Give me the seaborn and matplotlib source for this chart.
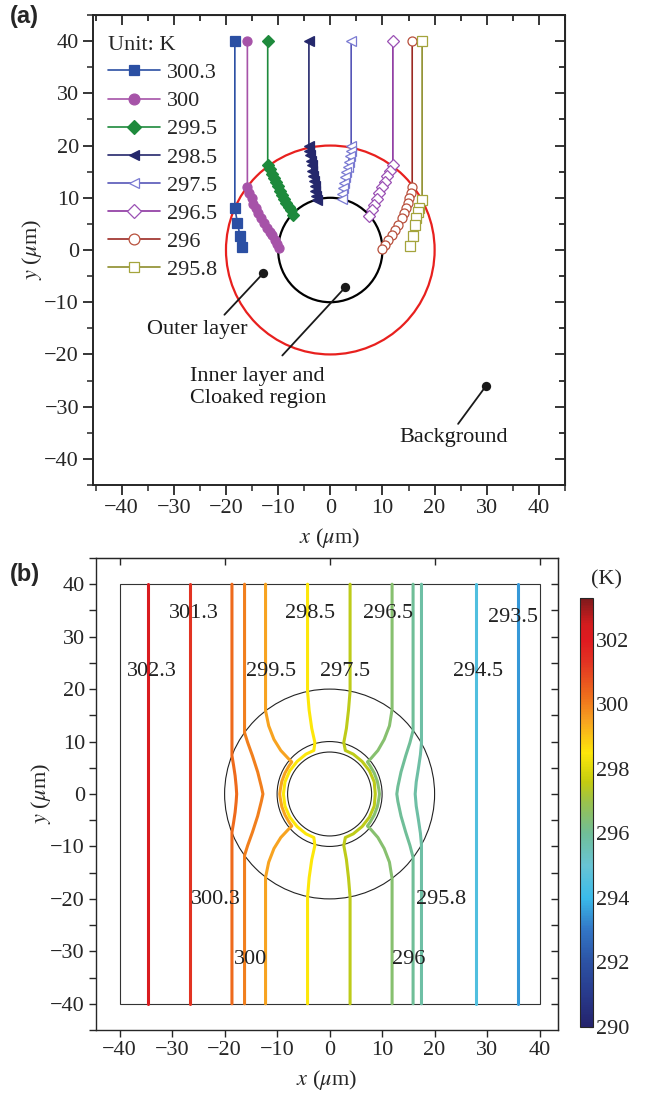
import numpy as np
import matplotlib
matplotlib.use('Agg')
import matplotlib.pyplot as plt
import matplotlib.cm as cm
import seaborn as sns
from matplotlib.patches import Circle, Rectangle
from matplotlib.colors import LinearSegmentedColormap, Normalize
from matplotlib.ticker import MultipleLocator

sns.set_style('ticks')
plt.rcParams['font.family'] = ['Liberation Serif', 'DejaVu Serif']
plt.rcParams['mathtext.fontset'] = 'stix'

# ---------------- panel (a): isotherm tracks (upper half)
a_labels = ['300.3', '300', '299.5', '298.5', '297.5', '296.5', '296', '295.8']

x_3003 = [-18.3, -18.3, -17.8, -17.3, -17.0]
y_3003 = [40, 8.0, 5.2, 2.6, 0.5]
x_300 = [-15.9, -15.9, -15.6, -15.1, -14.8, -14.3, -13.8, -13.3, -12.7, -12.2, -11.6, -11.1, -10.6, -10.2, -9.9]
y_300 = [40, 12.0, 10.9, 9.9, 8.9, 8.0, 7.0, 6.1, 5.1, 4.3, 3.5, 2.8, 1.9, 1.2, 0.3]
x_2995 = [-12.0, -12.0, -11.6, -11.2, -10.8, -10.4, -10.1, -9.6, -9.2, -8.8, -8.4, -8.0, -7.6, -7.1]
y_2995 = [40, 16.3, 15.5, 14.6, 13.8, 13.0, 12.2, 11.3, 10.6, 9.8, 9.0, 8.3, 7.6, 6.7]
x_2985 = [-4.1, -4.1, -4.0, -3.9, -3.7, -3.6, -3.5, -3.3, -3.1, -3.0, -2.9, -2.7, -2.5]
y_2985 = [40, 20.0, 19.0, 18.1, 17.1, 16.2, 15.2, 14.2, 13.2, 12.3, 11.3, 10.4, 9.5]
x_2975 = [4.0, 4.0, 3.9, 3.7, 3.5, 3.3, 3.1, 2.9, 2.7, 2.5, 2.3, 2.2]
y_2975 = [40, 20.0, 19.0, 18.0, 16.9, 15.9, 14.9, 13.9, 12.9, 11.8, 10.8, 9.8]
x_2965 = [12.0, 12.0, 11.4, 10.9, 10.4, 9.9, 9.4, 8.9, 8.4, 7.9, 7.4]
y_2965 = [40, 16.3, 15.2, 14.1, 13.0, 12.0, 10.9, 9.8, 8.7, 7.6, 6.6]
x_296 = [15.7, 15.7, 15.5, 15.1, 14.9, 14.6, 14.2, 13.7, 13.0, 12.4, 11.8, 11.1, 10.5, 9.9]
y_296 = [40, 12.0, 10.9, 10.0, 9.0, 8.0, 7.1, 6.1, 4.8, 3.9, 2.9, 2.0, 1.0, 0.1]
x_2958 = [17.6, 17.6, 17.0, 16.8, 16.5, 16.3, 15.9, 15.3]
y_2958 = [40, 9.6, 8.1, 7.2, 6.1, 4.8, 2.6, 0.8]

a_colors = ['#2b4fa3', '#a653a8', '#1e8a3c', '#25286c', '#5656b8', '#8c35a0', '#9c2a24', '#8e8e2c']
a_edges = ['#2b4fa3', '#a653a8', '#1e8a3c', '#25286c', '#7a7ad2', '#9a50b4', '#b8503c', '#a4a43c']
a_markers = ['s', 'o', 'D', '<', '<', 'D', 'o', 's']
a_filled = [True, True, True, True, False, False, False, False]

outer_r = 20
inner_r = 10
cloak_r = 8

ann_text = ['Outer layer', 'Inner layer and\nCloaked region', 'Background']
ann_dot_x = [-12.9, 2.9, 29.8]
ann_dot_y = [-4.5, -7.1, -26.1]
ann_end_x = [-20.3, -9.2, 24.5]
ann_end_y = [-12.4, -20.2, -33.3]
ann_txt_x = [-35.2, -26.9, 13.3]
ann_txt_y = [-15.2, -26.3, -35.9]

# ---------------- panel (b): isotherms (upper half, mirrored about y = 0)
b_levels = [302.3, 301.3, 300.3, 300, 299.5, 298.5, 297.5, 296.5, 296, 295.8, 294.5, 293.5]
bx_3023 = [-34.6, -34.6]
by_3023 = [40, 0]
bx_3013 = [-26.6, -26.6]
by_3013 = [40, 0]
bx_3003 = [-18.6, -18.6, -18.3, -18.0, -17.8, -17.7]
by_3003 = [40, 7.3, 5.5, 3.5, 1.5, 0]
bx_300 = [-16.2, -16.2, -15.6, -14.7, -13.7, -13.0, -12.7]
by_300 = [40, 11.7, 9.8, 7.3, 4.2, 1.4, 0]
bx_2995 = [-12.2, -12.2, -11.6, -10.6, -9.3, -7.9, -7.2, -7.7, -8.5, -9.1, -9.4, -9.5]
by_2995 = [40, 15.9, 13.0, 10.4, 8.3, 6.8, 6.1, 5.4, 4.0, 2.4, 0.8, 0]
bx_2985 = [-4.2, -4.2, -3.9, -3.4, -2.8, -3.0, -4.5, -6.2, -7.6, -8.5, -8.8]
by_2985 = [40, 19.6, 16.0, 12.5, 9.8, 8.3, 7.6, 6.2, 4.4, 2.3, 0]
bx_2975 = [3.9, 3.9, 3.6, 3.2, 2.7, 3.0, 4.5, 6.2, 7.6, 8.5, 8.7]
by_2975 = [40, 19.6, 16.0, 12.5, 9.8, 8.3, 7.6, 6.2, 4.4, 2.3, 0]
bx_2965 = [11.9, 11.9, 11.4, 10.4, 9.2, 7.9, 7.2, 7.7, 8.5, 9.1, 9.4, 9.5]
by_2965 = [40, 16.1, 13.0, 10.4, 8.3, 6.8, 6.1, 5.4, 4.0, 2.4, 0.8, 0]
bx_296 = [15.9, 15.9, 15.3, 14.5, 13.6, 13.0, 12.8]
by_296 = [40, 12.1, 9.8, 7.3, 4.2, 1.4, 0]
bx_2958 = [17.5, 17.5, 17.3, 16.9, 16.5, 16.3]
by_2958 = [40, 9.7, 7.5, 4.8, 2.3, 0]
bx_2945 = [27.9, 27.9]
by_2945 = [40, 0]
bx_2935 = [35.9, 35.9]
by_2935 = [40, 0]

b_label_text = ['302.3', '301.3', '298.5', '296.5', '293.5', '299.5', '297.5', '294.5',
                '300.3', '295.8', '300', '296']
b_label_x = [-33.9, -25.8, -3.8, 11.1, 34.9, -11.2, 2.9, 28.2, -21.6, 21.3, -15.1, 15.0]
b_label_y = [23.3, 34.4, 34.4, 34.4, 33.6, 23.3, 23.3, 23.3, -20.2, -20.2, -31.5, -31.5]

domain_half = 40

# colour scale (K)
cmap_temps = [290, 291, 292, 293, 294, 295, 296, 297, 297.6, 298.5, 299.5, 300.3, 301.3, 302, 302.5, 303.3]
cmap_colors = ['#24236c', '#283a8c', '#2c52a4', '#3276c6', '#3abbea', '#68c4d4', '#70be98',
               '#9cc24a', '#c4cc10', '#fde70a', '#f7a220', '#ee6c1c', '#e23422', '#e01a20',
               '#d41c1e', '#7e1a1c']
cbar_min, cbar_max = 290, 303.3
cbar_ticks = [290, 292, 294, 296, 298, 300, 302]

# ---------------- figure
fig = plt.figure(figsize=(6.52, 10.96), dpi=100)
ax_a = fig.add_axes([0.1426, 0.5575, 0.7240, 0.4288])
ax_b = fig.add_axes([0.1472, 0.0602, 0.7086, 0.4307])
cax = fig.add_axes([0.8896, 0.0630, 0.0199, 0.3914])

# panel (a)
ax_a.add_patch(Circle((0, 0), outer_r, fill=False, ec='#e8201e', lw=1.6))
ax_a.add_patch(Circle((0, 0), inner_r, fill=False, ec='black', lw=1.6))

a_x = [x_3003, x_300, x_2995, x_2985, x_2975, x_2965, x_296, x_2958]
a_y = [y_3003, y_300, y_2995, y_2985, y_2975, y_2965, y_296, y_2958]
for xs, ys, lab, c, ec, m, filled in zip(a_x, a_y, a_labels, a_colors, a_edges, a_markers, a_filled):
    sns.lineplot(x=xs, y=ys, sort=False, estimator=None, ax=ax_a, label=lab,
                 color=c, linewidth=1.2, marker=m, markersize=6.5 if m != 'D' else 6,
                 markerfacecolor=c if filled else 'white', markeredgecolor=ec,
                 markeredgewidth=0.9)

for dx, dy, ex, ey in zip(ann_dot_x, ann_dot_y, ann_end_x, ann_end_y):
    ax_a.annotate('', xy=(dx, dy), xytext=(ex, ey),
                  arrowprops=dict(arrowstyle='-', lw=1.3, color='#1a1a1a', shrinkA=0, shrinkB=0))
for tx, x0, y0 in zip(ann_text, ann_txt_x, ann_txt_y):
    ax_a.text(x0, y0, tx, fontsize=16, ha='left', va='center', color='#1a1a1a', linespacing=1.2)
sns.scatterplot(x=ann_dot_x, y=ann_dot_y, s=45, color='#1a1a1a', linewidth=0, ax=ax_a, zorder=4)

ax_a.set_xlim(-45.5, 45)
ax_a.set_ylim(-45, 45)
ax_a.set_xticks(range(-40, 41, 10))
ax_a.set_yticks(range(-40, 41, 10))
ax_a.xaxis.set_minor_locator(MultipleLocator(5))
ax_a.yaxis.set_minor_locator(MultipleLocator(5))
ax_a.tick_params(which='major', direction='out', length=7, width=1.3, labelsize=16, pad=3)
ax_a.tick_params(which='minor', direction='out', length=4, width=1.1)
for sp in ax_a.spines.values():
    sp.set_linewidth(1.4)
top_a = ax_a.secondary_xaxis('top')
top_a.set_xticks(range(-40, 41, 10))
top_a.xaxis.set_minor_locator(MultipleLocator(5))
top_a.tick_params(which='both', direction='in', labeltop=False, width=1.3)
top_a.tick_params(which='major', length=7)
top_a.tick_params(which='minor', length=4)
right_a = ax_a.secondary_yaxis('right')
right_a.set_yticks(range(-40, 41, 10))
right_a.yaxis.set_minor_locator(MultipleLocator(5))
right_a.tick_params(which='both', direction='in', labelright=False, width=1.3)
right_a.tick_params(which='major', length=7)
right_a.tick_params(which='minor', length=4)
ax_a.set_xlabel(r'$x$ ($\mu$m)', fontsize=16, labelpad=6)
ax_a.set_ylabel(r'$y$ ($\mu$m)', fontsize=16)
ax_a.yaxis.set_label_coords(-0.104, 0.5)

leg = ax_a.legend(title='Unit: K', loc='upper left', bbox_to_anchor=(0.032, 0.955),
                  frameon=False, fontsize=16, title_fontsize=16, handlelength=2.35,
                  handletextpad=0.3, labelspacing=0.34, borderpad=0, borderaxespad=0,
                  alignment='left', markerscale=1.2)

# panel (b)
norm = Normalize(cbar_min, cbar_max)
pos = [(t - cbar_min) / (cbar_max - cbar_min) for t in cmap_temps]
cmap = LinearSegmentedColormap.from_list('temp', list(zip(pos, cmap_colors)))

ax_b.add_patch(Rectangle((-domain_half, -domain_half), 2 * domain_half, 2 * domain_half,
                         fill=False, ec='#333333', lw=0.8))
for r in [outer_r, inner_r, cloak_r]:
    ax_b.add_patch(Circle((0, 0), r, fill=False, ec='#222222', lw=0.8))

b_x = [bx_3023, bx_3013, bx_3003, bx_300, bx_2995, bx_2985, bx_2975, bx_2965, bx_296, bx_2958, bx_2945, bx_2935]
b_y = [by_3023, by_3013, by_3003, by_300, by_2995, by_2985, by_2975, by_2965, by_296, by_2958, by_2945, by_2935]
for lvl, xs, ys in zip(b_levels, b_x, b_y):
    # mirror the upper half about y = 0 (the field is symmetric)
    xf = list(xs) + list(xs[::-1][1:])
    yf = list(ys) + [-v for v in ys[::-1][1:]]
    sns.lineplot(x=xf, y=yf, sort=False, estimator=None, ax=ax_b,
                 color=cmap(norm(lvl)), linewidth=2.2)

for t, x0, y0 in zip(b_label_text, b_label_x, b_label_y):
    ax_b.text(x0, y0, t, fontsize=16, ha='center', va='center', color='#222222')

ax_b.set_xlim(-44.5, 43.5)
ax_b.set_ylim(-45, 45)
ax_b.set_xticks(range(-40, 41, 10))
ax_b.set_yticks(range(-40, 41, 10))
ax_b.yaxis.set_minor_locator(MultipleLocator(5))
ax_b.tick_params(which='both', direction='out', length=5, width=1, labelsize=16, pad=3)
for sp in ax_b.spines.values():
    sp.set_linewidth(1.0)
top_b = ax_b.secondary_xaxis('top')
top_b.set_xticks(range(-40, 41, 20))
top_b.tick_params(direction='in', labeltop=False, length=5, width=1)
right_b = ax_b.secondary_yaxis('right')
right_b.set_yticks(range(-40, 41, 5))
right_b.tick_params(direction='in', labelright=False, length=5, width=1)
ax_b.set_xlabel(r'$x$ ($\mu$m)', fontsize=16, labelpad=6)
ax_b.set_ylabel(r'$y$ ($\mu$m)', fontsize=16)
ax_b.yaxis.set_label_coords(-0.093, 0.5)

cb = fig.colorbar(cm.ScalarMappable(norm=norm, cmap=cmap), cax=cax)
cb.set_ticks(cbar_ticks)
cb.ax.tick_params(labelsize=16, direction='in', length=3, width=0.8, pad=2)
cb.outline.set_linewidth(0.8)
fig.text(607 / 652, 1 - 580 / 1096, '(K)', fontsize=16, ha='center', va='center')

fig.text(10 / 652, 1 - 17 / 1096, '(a)', fontsize=17, fontweight='bold',
         family='Liberation Sans', ha='left', va='center')
fig.text(10 / 652, 1 - 574 / 1096, '(b)', fontsize=17, fontweight='bold',
         family='Liberation Sans', ha='left', va='center')

fig.savefig('out.png', dpi=100)
